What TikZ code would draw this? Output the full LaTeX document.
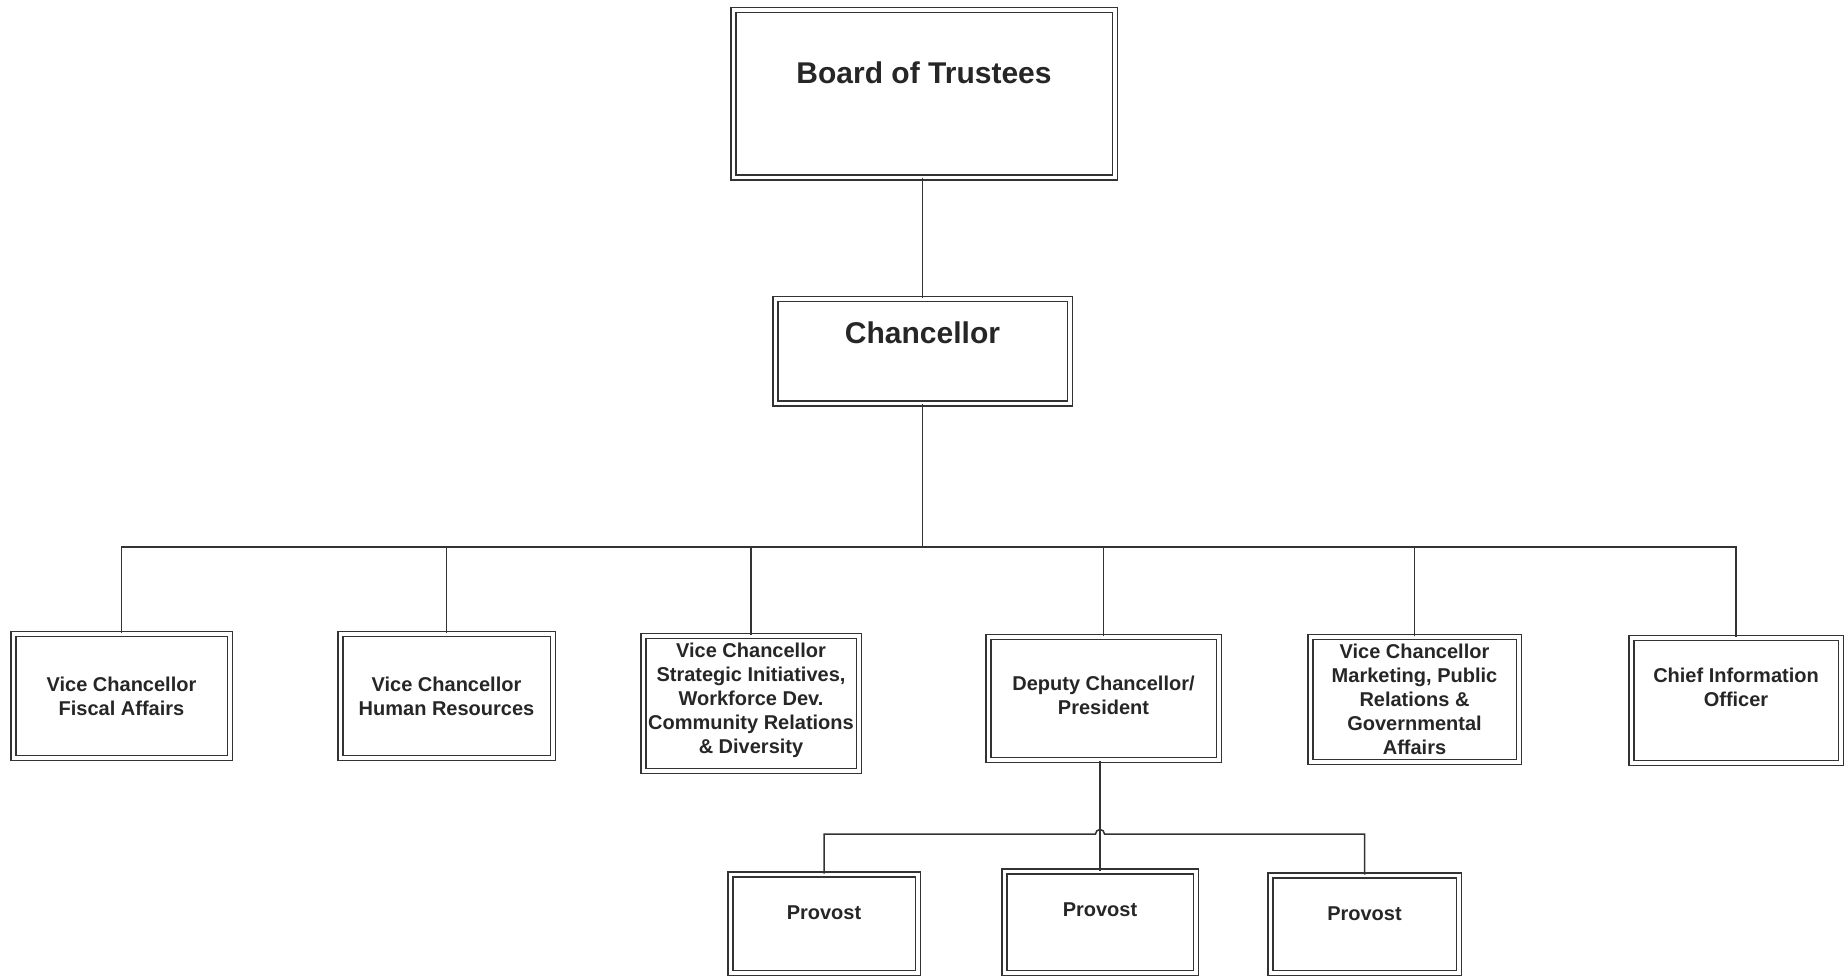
\documentclass[tikz,border=0pt]{standalone}
\usepackage{fontspec}
\setmainfont{Liberation Sans}
\usepackage{tikz}
\usetikzlibrary{positioning,calc}

\begin{document}
\begin{tikzpicture}[
    x=0.5pt, y=-0.5pt,
    every node/.style={draw=black!80, double=white, double distance=1.75pt, line width=0.75pt,
        inner sep=1pt, align=center, text=black!85},
    unit/.style={font=\bfseries\fontsize{10pt}{12pt}\selectfont},
    head/.style={font=\bfseries\fontsize{15pt}{18pt}\selectfont},
    link/.style={draw=black!80, line width=0.75pt}
]
    \useasboundingbox (0,0) rectangle (1846,977);

    % top of the chart
    \node[head, minimum width=190.75pt, minimum height=83.75pt, text depth=21pt] (board) at (924,94) {Board of Trustees};
    \node[head, minimum width=147.25pt, minimum height=52.25pt, text depth=18.5pt] (chancellor) at (922.5,351.5) {Chancellor};

    % second row
    \node[unit, minimum width=108.25pt, minimum height=61.75pt] (fiscal) at (121.5,696) {Vice Chancellor\\Fiscal Affairs};
    \node[unit, minimum width=106.25pt, minimum height=61.75pt] (hr) at (446.5,696) {Vice Chancellor\\Human Resources};
    \node[unit, minimum width=107.75pt, minimum height=67.25pt, text depth=5.5pt] (strat) at (751,703.5) {Vice Chancellor\\Strategic Initiatives,\\Workforce Dev.\\Community Relations\\\& Diversity};
    \node[unit, minimum width=115.25pt, minimum height=61.25pt, text depth=3.5pt] (deputy) at (1103.5,698.5) {Deputy Chancellor/\\President};
    \node[unit, minimum width=104.25pt, minimum height=62.25pt] (market) at (1414.5,699.5) {Vice Chancellor\\Marketing, Public\\Relations \&\\Governmental\\Affairs};
    \node[unit, minimum width=104.75pt, minimum height=62.25pt, text depth=13pt] (cio) at (1736,700.5) {Chief Information\\Officer};

    % provosts
    \node[unit, minimum width=93.75pt, minimum height=49.25pt, text depth=10.5pt] (prov1) at (824,923.5) {Provost};
    \node[unit, minimum width=95.75pt, minimum height=50.75pt, text depth=12pt] (prov2) at (1100,922) {Provost};
    \node[unit, minimum width=94.25pt, minimum height=48.75pt, text depth=10pt] (prov3) at (1364.5,924) {Provost};

    \coordinate (bus) at (922.5,547);
    \coordinate (sub) at (1100,834);

    \draw[link] (chancellor.north) -- (chancellor.north |- board.south);
    \draw[link] (chancellor.south) -- (bus);
    \draw[link] (fiscal.north) |- (bus) -| (cio.north);
    \foreach \n in {hr,strat,deputy,market}
        \draw[link] (\n.north) -- (\n.north |- bus);

    \draw[link] (prov2.north) -- (prov2.north |- deputy.south);
    \draw[link] (prov1.north) |- ($(sub)+(-4.5,0)$) arc[start angle=180, end angle=360, radius=4.5] -| (prov3.north);
\end{tikzpicture}
\end{document}
